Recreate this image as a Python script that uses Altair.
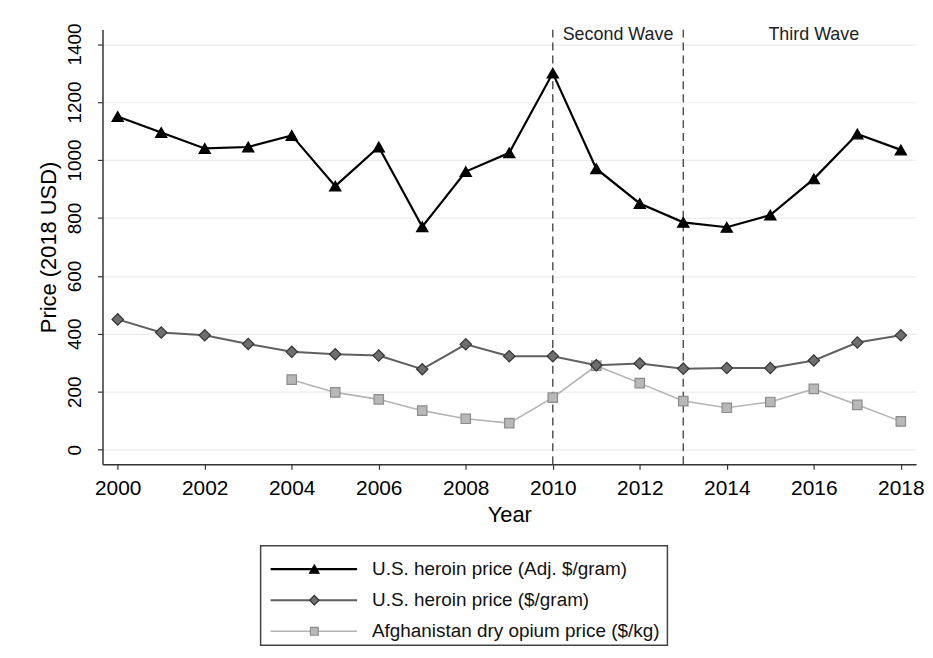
import altair as alt
import pandas as pd

years = list(range(2000, 2019))
heroin_adj = [1150, 1095, 1040, 1045, 1085, 910, 1045, 770, 960, 1025,
              1300, 970, 850, 785, 768, 810, 935, 1090, 1035]
heroin_nom = [450, 405, 395, 365, 338, 330, 325, 278, 364, 323,
              323, 292, 298, 280, 282, 282, 308, 370, 395]
opium = [None, None, None, None, 242, 198, 174, 135, 107, 92,
         180, 290, 230, 168, 145, 165, 210, 155, 98]

series_names = ["U.S. heroin price (Adj. $/gram)",
                "U.S. heroin price ($/gram)",
                "Afghanistan dry opium price ($/kg)"]
series_values = [heroin_adj, heroin_nom, opium]
line_colors = ["#000000", "#606060", "#b4b4b4"]
marker_fills = ["#000000", "#6e6e6e", "#b8b8b8"]
marker_strokes = ["#000000", "#333333", "#8c8c8c"]
line_widths = [2.2, 2.0, 1.6]
shapes = ["triangle-up", "diamond", "square"]
sizes = [130, 130, 90]

wave_years = [2010, 2013]
wave_label_x = [2011.5, 2016]
wave_labels = ["Second Wave", "Third Wave"]
wave_label_y = [1432, 1432]

y_ticks = list(range(0, 1401, 200))
x_ticks = list(range(2000, 2019, 2))

FONT = "Liberation Sans"

rows = []
for name, vals in zip(series_names, series_values):
    for yr, v in zip(years, vals):
        if v is not None:
            rows.append({"year": yr, "price": v, "series": name})
df = pd.DataFrame(rows)

xscale = alt.Scale(domain=[1999.65, 2018.35], nice=False, zero=False)
yscale = alt.Scale(domain=[-50, 1450], nice=False, zero=False)

xaxis = alt.Axis(values=x_ticks, format="d", title="Year", grid=False,
                 tickSize=5, labelPadding=8, titlePadding=7,
                 labelFontSize=21, titleFontSize=22, titleFontWeight="normal")
yaxis = alt.Axis(values=y_ticks, format="d", title="Price (2018 USD)", grid=True,
                 gridColor="#ececec", gridWidth=1.2,
                 tickSize=5, labelAngle=-90, labelAlign="center",
                 labelBaseline="bottom", labelPadding=13, titlePadding=5,
                 labelFontSize=19, titleFontSize=22, titleFontWeight="normal")

base = alt.Chart(df)

layers = []
rules_df = pd.DataFrame({"year": wave_years})
layers.append(
    alt.Chart(rules_df).mark_rule(color="#555555", strokeWidth=1.5,
                                  strokeDash=[8, 5]).encode(
        x=alt.X("year:Q", scale=xscale, axis=xaxis)
    )
)
for i in reversed(range(3)):
    name = series_names[i]
    sub = base.transform_filter(alt.datum.series == name)
    layers.append(
        sub.mark_line(color=line_colors[i], strokeWidth=line_widths[i]).encode(
            x=alt.X("year:Q", scale=xscale, axis=xaxis),
            y=alt.Y("price:Q", scale=yscale, axis=yaxis),
        )
    )
    layers.append(
        sub.mark_point(shape=shapes[i], size=sizes[i], filled=True,
                       fill=marker_fills[i], stroke=marker_strokes[i],
                       strokeWidth=1.2, opacity=1).encode(
            x=alt.X("year:Q", scale=xscale),
            y=alt.Y("price:Q", scale=yscale),
        )
    )
labels_df = pd.DataFrame({"x": wave_label_x, "y": wave_label_y, "t": wave_labels})
layers.append(
    alt.Chart(labels_df).mark_text(font=FONT, fontSize=18, color="#222222",
                                   baseline="middle").encode(
        x=alt.X("x:Q", scale=xscale),
        y=alt.Y("y:Q", scale=yscale),
        text="t:N",
    )
)

main = alt.layer(*layers).properties(width=818, height=437)

# legend (box positioned under the plot, rows placed by a row scale)
leg_df = pd.DataFrame({"row": [0, 1, 2], "label": series_names})
leg_y = alt.Y("row:Q", scale=alt.Scale(domain=[-0.75, 2.45], reverse=True, nice=False),
              axis=None)
BOX_L, BOX_R = 159, 568
leg_layers = [
    alt.Chart(leg_df).transform_filter(alt.datum.row == 0).mark_rect(
        fill="white", stroke="#444444", strokeWidth=1.5).encode(
        x=alt.value(BOX_L), x2=alt.value(BOX_R), y=alt.value(0), y2=alt.value(100))
]
for i in range(3):
    sub = alt.Chart(leg_df).transform_filter(alt.datum.row == i)
    leg_layers.append(
        sub.mark_rule(color=line_colors[i], strokeWidth=line_widths[i]).encode(
            x=alt.value(BOX_L + 10), x2=alt.value(BOX_L + 97), y=leg_y)
    )
    leg_layers.append(
        sub.mark_point(shape=shapes[i], size=sizes[i] * 0.7, filled=True,
                       fill=marker_fills[i], stroke=marker_strokes[i],
                       strokeWidth=1.2, opacity=1).encode(
            x=alt.value(BOX_L + 54), y=leg_y)
    )
leg_layers.append(
    alt.Chart(leg_df).mark_text(font=FONT, fontSize=19, align="left",
                                baseline="middle", color="#111111").encode(
        x=alt.value(BOX_L + 112), y=leg_y, text="label:N")
)
legend = alt.layer(*leg_layers).properties(width=818, height=100)

chart = alt.vconcat(main, legend, spacing=19).properties(
    padding={"left": 30, "top": 13, "right": 0, "bottom": 0},
    background="white"
).configure_view(stroke=None).configure_axis(
    labelFont=FONT, titleFont=FONT, labelColor="#000000", titleColor="#000000",
    titleFontWeight="normal", domainColor="#333333", tickColor="#333333",
    domainWidth=1.5, tickWidth=1.2
)

chart.save("out.html", embed_options={"renderer": "svg", "actions": False})
